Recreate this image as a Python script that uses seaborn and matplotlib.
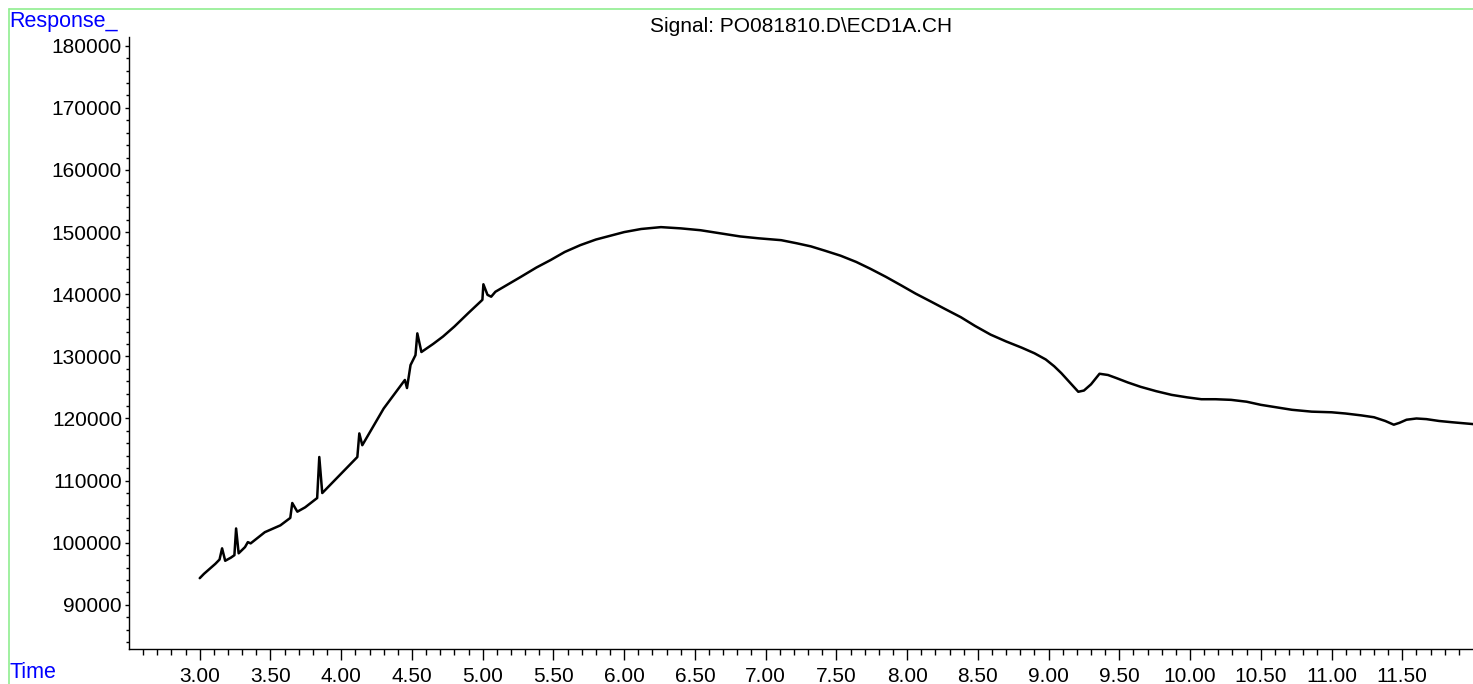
import numpy as np
import matplotlib
matplotlib.use("Agg")
import matplotlib.pyplot as plt
import seaborn as sns
from matplotlib.lines import Line2D
from matplotlib.ticker import FixedLocator, FormatStrFormatter

# ---- data (time in min, detector response) ----
times = [
    3.00, 3.03, 3.07, 3.11, 3.14, 3.158, 3.18, 3.22, 3.245, 3.257, 3.275,
    3.32, 3.34, 3.36, 3.46, 3.57, 3.64, 3.654, 3.69, 3.745, 3.83, 3.845,
    3.866, 3.99, 4.114, 4.128, 4.149, 4.30, 4.45, 4.465, 4.49, 4.525,
    4.538, 4.567, 4.65, 4.72, 4.80, 4.90, 4.998, 5.005, 5.034, 5.06, 5.09,
    5.15, 5.27, 5.38, 5.48, 5.58, 5.69, 5.80, 5.90, 6.00, 6.12, 6.26,
    6.40, 6.54, 6.68, 6.82, 6.95, 7.11, 7.22, 7.32, 7.42, 7.53, 7.64,
    7.74, 7.85, 7.96, 8.06, 8.17, 8.27, 8.38, 8.48, 8.59, 8.70, 8.81,
    8.90, 8.98, 9.04, 9.09, 9.15, 9.21, 9.25, 9.30, 9.36, 9.42, 9.48,
    9.56, 9.65, 9.76, 9.87, 9.98, 10.08, 10.18, 10.29, 10.40, 10.50,
    10.61, 10.72, 10.86, 11.00, 11.10, 11.21, 11.30, 11.38, 11.44, 11.48,
    11.53, 11.60, 11.67, 11.76, 11.85, 12.00,
]
response = [
    94300, 95000, 95800, 96600, 97300, 99100, 97100, 97600, 98000, 102300, 98300,
    99300, 100100, 99900, 101700, 102800, 104000, 106400, 105000, 105700, 107200, 113800,
    108000, 110900, 113800, 117600, 115700, 121600, 126200, 124900, 128600, 130200,
    133700, 130700, 132000, 133200, 134800, 137000, 139100, 141600, 139900, 139600, 140400,
    141200, 142800, 144300, 145500, 146800, 147900, 148800, 149400, 150000, 150500, 150800,
    150600, 150300, 149800, 149300, 149000, 148700, 148200, 147700, 147000, 146200, 145200,
    144100, 142800, 141400, 140100, 138800, 137600, 136300, 134900, 133500, 132400, 131400,
    130500, 129500, 128400, 127300, 125800, 124300, 124500, 125500, 127200, 127000, 126500,
    125800, 125100, 124400, 123800, 123400, 123100, 123100, 123000, 122700, 122200,
    121800, 121400, 121100, 121000, 120800, 120500, 120200, 119600, 119000, 119300,
    119800, 120000, 119900, 119600, 119400, 119100,
]

x_major = [3.0, 3.5, 4.0, 4.5, 5.0, 5.5, 6.0, 6.5, 7.0, 7.5, 8.0, 8.5, 9.0,
           9.5, 10.0, 10.5, 11.0, 11.5]
y_major = [90000, 100000, 110000, 120000, 130000, 140000, 150000, 160000,
           170000, 180000]

W, H = 1473, 684
BLUE = "#0000FF"
GREEN = "#90EE90"

sns.set_style("ticks")
plt.rcParams["font.family"] = ["Liberation Sans", "DejaVu Sans"]

fig = plt.figure(figsize=(W / 100, H / 100), dpi=100)
ax = fig.add_axes([129 / W, 1 - 649 / H, (W - 129) / W, (649 - 37) / H])

sns.lineplot(x=times, y=response, ax=ax, color="black", linewidth=1.8,
             estimator=None, sort=False)

ax.set_xlim(2.5, 12.0)
ax.set_ylim(82900, 181400)

# ticks
ax.xaxis.set_major_locator(FixedLocator(x_major))
ax.xaxis.set_major_formatter(FormatStrFormatter("%.2f"))
x_minor = [round(2.6 + 0.1 * i, 1) for i in range(94)]
x_minor = [v for v in x_minor if v not in x_major]
ax.xaxis.set_minor_locator(FixedLocator(x_minor))
ax.yaxis.set_major_locator(FixedLocator(y_major))
ax.yaxis.set_major_formatter(FormatStrFormatter("%d"))
ax.yaxis.set_minor_locator(FixedLocator(list(range(84000, 182000, 2000))))

ax.tick_params(axis="x", which="major", length=8, width=1, pad=5,
               labelsize=15, direction="out", colors="black")
ax.tick_params(axis="x", which="minor", length=4.5, width=1,
               direction="out", colors="black")
ax.tick_params(axis="y", which="major", length=3, width=1, pad=2,
               labelsize=15, direction="out", colors="black")
ax.tick_params(axis="y", which="minor", length=2, width=1,
               direction="out", colors="black")

for side in ["top", "right"]:
    ax.spines[side].set_visible(False)
for side in ["left", "bottom"]:
    ax.spines[side].set_linewidth(1.0)
    ax.spines[side].set_color("black")
ax.set_xlabel("")
ax.set_ylabel("")

# frame lines and labels
fig.add_artist(Line2D([9 / W, 9 / W], [0, 1 - 9 / H], color=GREEN, lw=1.2))
fig.add_artist(Line2D([9 / W, 1], [1 - 9 / H, 1 - 9 / H], color=GREEN, lw=1.2))

fig.text(9 / W, 1 - 11 / H, "Response_", color=BLUE, fontsize=15.5,
         ha="left", va="top")
fig.text(9 / W, 1.5 / H, "Time", color=BLUE, fontsize=15.5,
         ha="left", va="bottom")
fig.text(801 / W, 1 - 26 / H, "Signal: PO081810.D\\ECD1A.CH", fontsize=15,
         ha="center", va="center", color="black")

fig.savefig("out.png", dpi=100)
